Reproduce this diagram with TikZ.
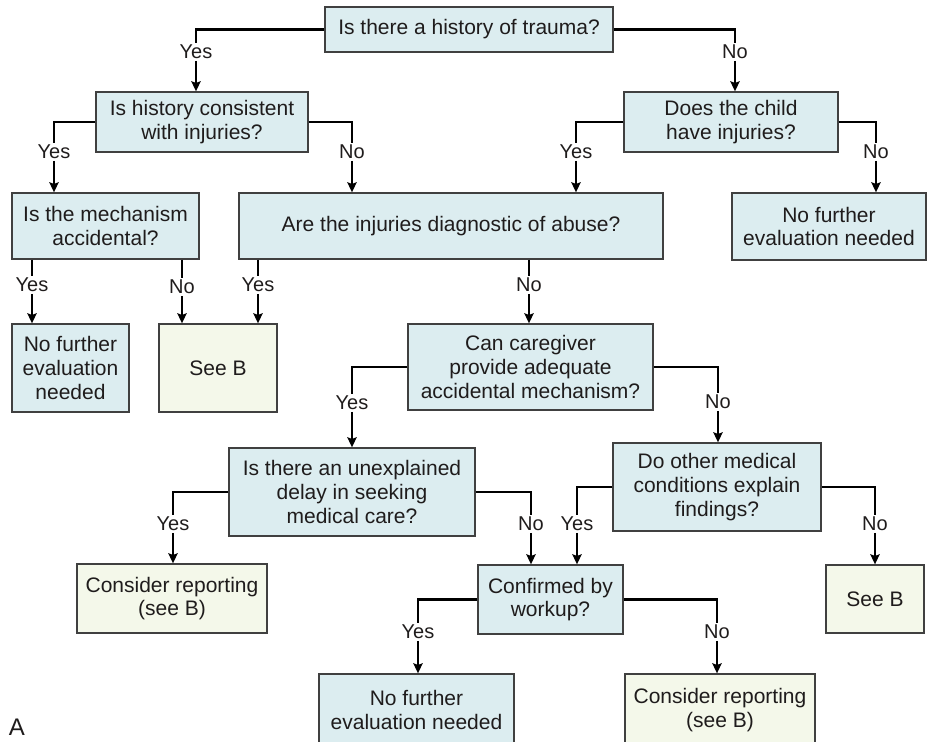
\documentclass[tikz,border=0pt]{standalone}
\usepackage{fontspec}
\setmainfont{Liberation Sans}
\usetikzlibrary{arrows.meta}

\newlength{\du}
\setlength{\du}{0.5pt}

\definecolor{inkcolor}{rgb}{0.12, 0.11, 0.11}
\definecolor{asklinecolor}{rgb}{0.25, 0.25, 0.25}
\definecolor{askfillcolor}{rgb}{0.863, 0.929, 0.941}
\definecolor{endfillcolor}{rgb}{0.957, 0.973, 0.918}

\tikzset{
  askbox/.style={draw=asklinecolor, fill=askfillcolor, line width=1.3\du,
    text=inkcolor, align=center, inner sep=2\du,
    font=\fontsize{10.5}{11.8}\selectfont},
  endbox/.style={askbox, fill=endfillcolor},
  answer/.style={text=inkcolor, inner sep=1.5\du, font=\fontsize{10}{11}\selectfont},
  wire/.style={draw=black, line width=2.2\du},
  arr/.style={wire, -{Stealth[length=5pt, width=4.6pt, inset=0.8pt]}}
}

\begin{document}
\begin{tikzpicture}
\pgftransformxscale{1.000000}
\pgftransformyscale{-1.000000}
\useasboundingbox (0\du,0\du) rectangle (928\du,741\du);

% question and end boxes
\node[askbox, minimum width=288\du, minimum height=45\du] (trauma) at (469\du,29.5\du) {Is there a history of trauma?};
\node[askbox, minimum width=212\du, minimum height=60\du] (consist) at (202\du,122\du) {Is history consistent\\with injuries?};
\node[askbox, minimum width=214\du, minimum height=60\du] (child) at (731\du,122\du) {Does the child\\have injuries?};
\node[askbox, minimum width=187\du, minimum height=66\du] (mech) at (105.5\du,226\du) {Is the mechanism\\accidental?};
\node[askbox, minimum width=424\du, minimum height=66\du] (diag) at (451\du,226\du) {Are the injuries diagnostic of abuse?};
\node[askbox, minimum width=194\du, minimum height=67\du] (nfA) at (829\du,226.5\du) {No further\\evaluation needed};
\node[askbox, minimum width=117\du, minimum height=88\du] (nfB) at (70.5\du,368\du) {No further\\evaluation\\needed};
\node[endbox, minimum width=118\du, minimum height=88\du] (seeA) at (218\du,368\du) {See B};
\node[askbox, minimum width=245\du, minimum height=86\du] (care) at (530.5\du,367\du) {Can caregiver\\provide adequate\\accidental mechanism?};
\node[askbox, minimum width=246\du, minimum height=88\du] (delay) at (352\du,492\du) {Is there an unexplained\\delay in seeking\\medical care?};
\node[askbox, minimum width=208\du, minimum height=88\du] (other) at (717\du,487\du) {Do other medical\\conditions explain\\findings?};
\node[endbox, minimum width=190\du, minimum height=69\du] (repA) at (172\du,598.5\du) {Consider reporting\\(see B)};
\node[askbox, minimum width=145\du, minimum height=69\du] (confirm) at (550.5\du,599.5\du) {Confirmed by\\workup?};
\node[endbox, minimum width=98\du, minimum height=68\du] (seeB) at (875\du,599\du) {See B};
\node[askbox, minimum width=195\du, minimum height=72\du] (nfC) at (416.5\du,710\du) {No further\\evaluation needed};
\node[endbox, minimum width=190\du, minimum height=72\du] (repB) at (720\du,710\du) {Consider reporting\\(see B)};
\node[text=inkcolor, inner sep=0pt, font=\fontsize{12}{14}\selectfont] (tag) at (17\du,727\du) {A};

% answers
\node[answer] (yes1) at (196\du,52\du) {Yes};
\node[answer] (no1) at (735\du,52\du) {No};
\node[answer] (yes2) at (54\du,152\du) {Yes};
\node[answer] (no2) at (352\du,152\du) {No};
\node[answer] (yes3) at (576\du,152\du) {Yes};
\node[answer] (no3) at (876\du,152\du) {No};
\node[answer] (yes4) at (32\du,285\du) {Yes};
\node[answer] (no4) at (182\du,287\du) {No};
\node[answer] (yes5) at (258\du,285\du) {Yes};
\node[answer] (no5) at (529\du,285\du) {No};
\node[answer] (yes6) at (352\du,403\du) {Yes};
\node[answer] (no6) at (718\du,402\du) {No};
\node[answer] (yes7) at (173\du,524\du) {Yes};
\node[answer] (no7) at (531\du,524\du) {No};
\node[answer] (yes8) at (577\du,524\du) {Yes};
\node[answer] (no8) at (875\du,524\du) {No};
\node[answer] (yes9) at (418\du,632\du) {Yes};
\node[answer] (no9) at (717\du,632\du) {No};

% connectors
\draw[wire] (trauma.west) -| (yes1);
\draw[arr] (yes1) -- (yes1 |- consist.north);
\draw[wire] (trauma.east) -| (no1);
\draw[arr] (no1) -- (no1 |- child.north);
\draw[wire] (consist.west) -| (yes2);
\draw[arr] (yes2) -- (yes2 |- mech.north);
\draw[wire] (consist.east) -| (no2);
\draw[arr] (no2) -- (no2 |- diag.north);
\draw[wire] (child.west) -| (yes3);
\draw[arr] (yes3) -- (yes3 |- diag.north);
\draw[wire] (child.east) -| (no3);
\draw[arr] (no3) -- (no3 |- nfA.north);
\draw[wire] (mech.south -| yes4) -- (yes4);
\draw[arr] (yes4) -- (yes4 |- nfB.north);
\draw[wire] (mech.south -| no4) -- (no4);
\draw[arr] (no4) -- (no4 |- seeA.north);
\draw[wire] (diag.south -| yes5) -- (yes5);
\draw[arr] (yes5) -- (yes5 |- seeA.north);
\draw[wire] (diag.south -| no5) -- (no5);
\draw[arr] (no5) -- (no5 |- care.north);
\draw[wire] (care.west) -| (yes6);
\draw[arr] (yes6) -- (yes6 |- delay.north);
\draw[wire] (care.east) -| (no6);
\draw[arr] (no6) -- (no6 |- other.north);
\draw[wire] (delay.west) -| (yes7);
\draw[arr] (yes7) -- (yes7 |- repA.north);
\draw[wire] (delay.east) -| (no7);
\draw[arr] (no7) -- (no7 |- confirm.north);
\draw[wire] (other.west) -| (yes8);
\draw[arr] (yes8) -- (yes8 |- confirm.north);
\draw[wire] (other.east) -| (no8);
\draw[arr] (no8) -- (no8 |- seeB.north);
\draw[wire] (confirm.west) -| (yes9);
\draw[arr] (yes9) -- (yes9 |- nfC.north);
\draw[wire] (confirm.east) -| (no9);
\draw[arr] (no9) -- (no9 |- repB.north);
\end{tikzpicture}
\end{document}
